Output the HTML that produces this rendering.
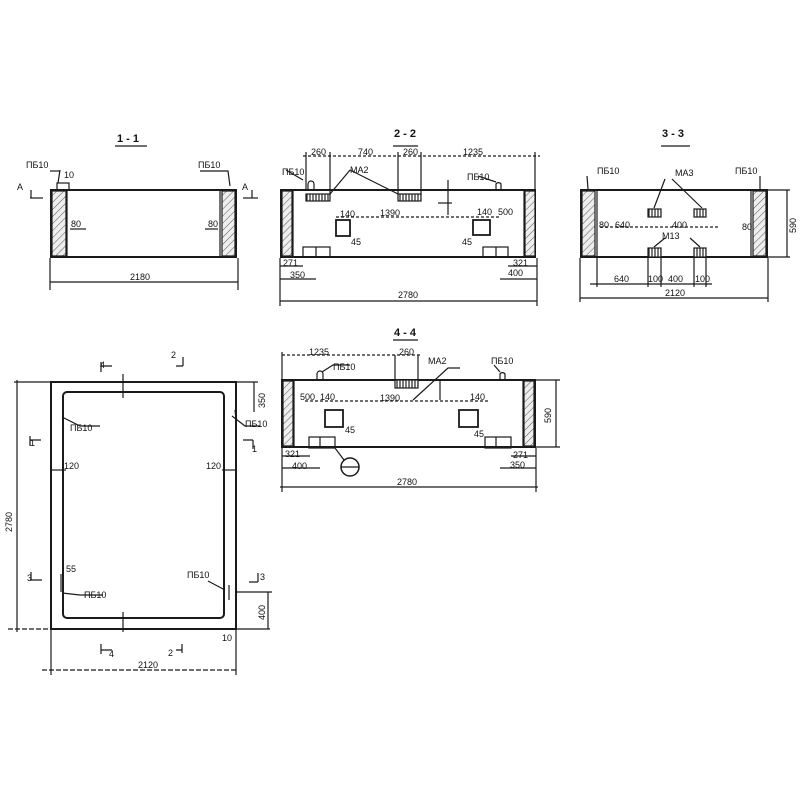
<!DOCTYPE html>
<html><head><meta charset="utf-8"><style>
html,body{margin:0;padding:0;background:#fff}
svg{display:block}
text{font-family:"Liberation Sans",sans-serif;font-size:9px;fill:#111}
.t{font-size:11px;font-weight:bold}
</style></head><body>
<svg width="800" height="800" viewBox="0 0 800 800" xmlns="http://www.w3.org/2000/svg">
<defs>
<pattern id="h" width="5" height="5" patternUnits="userSpaceOnUse" patternTransform="rotate(45)">
<rect width="5" height="5" fill="#eee"/><line x1="0" y1="0" x2="0" y2="5" stroke="#555" stroke-width="1"/></pattern>
<pattern id="v" width="3" height="4" patternUnits="userSpaceOnUse"><rect width="3" height="4" fill="#fff"/><line x1="1" y1="0" x2="1" y2="4" stroke="#222" stroke-width="1.2"/></pattern>
</defs>
<g stroke="#1a1a1a" fill="none" stroke-width="1.2">

<!-- 1-1 -->
<line x1="115" y1="146" x2="147" y2="146"/>
<rect x="51" y="190" width="185" height="67" stroke-width="2"/>
<rect x="52" y="191" width="14" height="65" fill="url(#h)"/>
<line x1="67" y1="190" x2="67" y2="257"/>
<rect x="222" y="191" width="13" height="65" fill="url(#h)"/>
<line x1="220" y1="190" x2="220" y2="257"/>
<rect x="57" y="183" width="12" height="7"/>
<line x1="60" y1="170" x2="58" y2="183"/>
<path d="M50 171 H60"/><path d="M200 171 H228 L230 186"/>
<line x1="30" y1="198" x2="43" y2="198"/><line x1="31" y1="190" x2="31" y2="198"/>
<line x1="243" y1="198" x2="258" y2="198"/><line x1="252" y1="190" x2="252" y2="198"/>
<line x1="70" y1="229" x2="86" y2="229"/><line x1="205" y1="229" x2="218" y2="229"/>
<line x1="50" y1="258" x2="50" y2="290"/><line x1="238" y1="258" x2="238" y2="290"/>
<line x1="50" y1="282" x2="238" y2="282"/>

<!-- 2-2 -->
<line x1="393" y1="146" x2="418" y2="146"/>
<line x1="303" y1="156" x2="540" y2="156" stroke-dasharray="3,2"/>
<line x1="306" y1="152" x2="306" y2="190"/><line x1="330" y1="152" x2="330" y2="195"/>
<line x1="398" y1="152" x2="398" y2="195"/><line x1="421" y1="152" x2="421" y2="195"/>
<line x1="535" y1="152" x2="535" y2="190"/>
<rect x="281" y="190" width="254" height="67" stroke-width="2"/>
<rect x="282" y="191" width="10" height="65" fill="url(#h)"/>
<line x1="293" y1="190" x2="293" y2="257"/>
<rect x="525" y="191" width="10" height="65" fill="url(#h)"/>
<line x1="524" y1="190" x2="524" y2="257"/>
<rect x="306" y="194" width="24" height="7" fill="url(#v)"/>
<rect x="398" y="194" width="23" height="7" fill="url(#v)"/>
<path d="M308 189 v-5 a3 3 0 0 1 6 0 v5"/><path d="M496 189 v-5 a3 3 0 0 1 5 0 v5"/>
<path d="M286 170 L303 180"/><path d="M478 176 L496 182"/>
<path d="M350 170 L330 194 M350 170 L398 194"/>
<rect x="336" y="220" width="14" height="16" stroke-width="1.8"/>
<rect x="473" y="220" width="17" height="15" stroke-width="1.8"/>
<line x1="336" y1="217" x2="500" y2="217" stroke-dasharray="3,2"/>
<rect x="303" y="247" width="27" height="10"/><line x1="316" y1="247" x2="316" y2="257"/>
<rect x="483" y="247" width="25" height="10"/><line x1="496" y1="247" x2="496" y2="257"/>
<line x1="280" y1="258" x2="280" y2="306"/><line x1="537" y1="258" x2="537" y2="306"/>
<line x1="280" y1="301" x2="537" y2="301"/>
<line x1="280" y1="279" x2="316" y2="279"/><line x1="500" y1="279" x2="537" y2="279"/>
<line x1="280" y1="266" x2="303" y2="266"/><line x1="508" y1="266" x2="537" y2="266"/>
<line x1="438" y1="203" x2="452" y2="203"/><line x1="448" y1="180" x2="448" y2="215"/>

<!-- 3-3 -->
<line x1="661" y1="146" x2="690" y2="146"/>
<rect x="581" y="190" width="186" height="67" stroke-width="2"/>
<rect x="582" y="191" width="13" height="65" fill="url(#h)"/>
<line x1="597" y1="190" x2="597" y2="257"/>
<rect x="753" y="191" width="13" height="65" fill="url(#h)"/>
<line x1="751" y1="190" x2="751" y2="257"/>
<rect x="648" y="209" width="13" height="8" fill="url(#v)"/>
<rect x="694" y="209" width="12" height="8" fill="url(#v)"/>
<rect x="648" y="248" width="13" height="9" fill="url(#v)"/>
<rect x="694" y="248" width="12" height="9" fill="url(#v)"/>
<path d="M665 179 L654 208 M672 179 L702 208"/>
<path d="M665 238 L654 247 M690 238 L700 247"/>
<line x1="587" y1="176" x2="588" y2="189"/><line x1="760" y1="176" x2="760" y2="189"/>
<line x1="600" y1="227" x2="720" y2="227" stroke-dasharray="3,2"/>
<line x1="767" y1="190" x2="790" y2="190"/><line x1="767" y1="257" x2="790" y2="257"/>
<line x1="787" y1="190" x2="787" y2="257"/>
<line x1="580" y1="258" x2="580" y2="302"/><line x1="768" y1="258" x2="768" y2="302"/>
<line x1="580" y1="298" x2="768" y2="298"/>
<line x1="590" y1="284" x2="712" y2="284"/>
<line x1="597" y1="257" x2="597" y2="287"/><line x1="648" y1="257" x2="648" y2="287"/>
<line x1="661" y1="257" x2="661" y2="287"/><line x1="694" y1="257" x2="694" y2="287"/><line x1="706" y1="257" x2="706" y2="287"/>

<!-- 4-4 -->
<line x1="393" y1="340" x2="418" y2="340"/>
<line x1="282" y1="355" x2="420" y2="355" stroke-dasharray="3,2"/>
<line x1="282" y1="352" x2="282" y2="379"/><line x1="395" y1="355" x2="395" y2="380"/><line x1="418" y1="355" x2="418" y2="380"/>
<rect x="282" y="380" width="253" height="67" stroke-width="2"/>
<rect x="283" y="381" width="10" height="65" fill="url(#h)"/>
<line x1="294" y1="380" x2="294" y2="447"/>
<rect x="524" y="381" width="10" height="65" fill="url(#h)"/>
<line x1="523" y1="380" x2="523" y2="447"/>
<rect x="395" y="380" width="23" height="8" fill="url(#v)"/>
<path d="M317 379 v-5 a3 3 0 0 1 6 0 v5"/><path d="M500 379 v-5 a3 3 0 0 1 5 0 v5"/>
<path d="M322 372 L333 365 H350"/><path d="M500 372 L494 365"/>
<path d="M413 400 L448 368 H460"/>
<rect x="325" y="410" width="18" height="17" stroke-width="1.8"/>
<rect x="459" y="410" width="19" height="17" stroke-width="1.8"/>
<line x1="305" y1="401" x2="490" y2="401" stroke-dasharray="3,2"/>
<rect x="309" y="437" width="26" height="11"/><line x1="320" y1="437" x2="320" y2="448"/>
<rect x="485" y="437" width="26" height="11"/><line x1="496" y1="437" x2="496" y2="448"/>
<circle cx="350" cy="467" r="9" stroke-width="1.5"/><line x1="341" y1="467" x2="359" y2="467"/>
<line x1="335" y1="448" x2="344" y2="460"/>
<line x1="282" y1="448" x2="282" y2="492"/><line x1="536" y1="448" x2="536" y2="492"/>
<line x1="280" y1="487" x2="538" y2="487"/>
<line x1="282" y1="468" x2="320" y2="468"/><line x1="500" y1="468" x2="536" y2="468"/>
<line x1="282" y1="456" x2="310" y2="456"/><line x1="511" y1="456" x2="536" y2="456"/>
<line x1="536" y1="380" x2="560" y2="380"/><line x1="536" y1="447" x2="560" y2="447"/>
<line x1="556" y1="380" x2="556" y2="447"/>
<line x1="440" y1="380" x2="440" y2="400"/>

<!-- plan -->
<rect x="51" y="382" width="185" height="247" stroke-width="2"/>
<rect x="63" y="392" width="161" height="226" rx="4" stroke-width="2"/>
<line x1="14" y1="382" x2="51" y2="382"/><line x1="8" y1="629" x2="51" y2="629" stroke-dasharray="5,2"/>
<line x1="17" y1="380" x2="17" y2="632"/>
<line x1="236" y1="382" x2="258" y2="382"/><line x1="236" y1="629" x2="270" y2="629"/>
<line x1="254" y1="382" x2="254" y2="412"/>
<line x1="236" y1="592" x2="272" y2="592"/><line x1="268" y1="592" x2="268" y2="629"/>
<line x1="51" y1="630" x2="51" y2="675"/><line x1="236" y1="630" x2="236" y2="675"/>
<line x1="42" y1="670" x2="238" y2="670" stroke-dasharray="5,2"/>
<line x1="123" y1="374" x2="123" y2="398"/><line x1="123" y1="612" x2="123" y2="632"/>
<path d="M101 372 V362 M101 366 H112"/><path d="M183 366 V357 M176 366 H183"/>
<path d="M101 644 V654 M101 650 H112"/><path d="M182 644 V653 M176 650 H182"/>
<path d="M30 440 H41 M30 436 V446"/><path d="M243 440 H253 M253 440 V449"/>
<path d="M30 580 H42 M31 572 V580"/><path d="M249 582 H258 M258 573 V582"/>
<line x1="51" y1="470" x2="66" y2="470"/><line x1="222" y1="470" x2="236" y2="470"/>
<path d="M62 417 L80 426 H100"/><path d="M232 416 L245 426 H260"/>
<path d="M62 593 L80 595 H103"/><path d="M208 581 L225 590"/>
<line x1="61" y1="574" x2="61" y2="592"/><line x1="229" y1="585" x2="229" y2="600"/>
<line x1="235" y1="410" x2="236" y2="420"/>
</g>
<g>
<text class="t" x="117" y="142">1 - 1</text>
<text class="t" x="394" y="137">2 - 2</text>
<text class="t" x="662" y="137">3 - 3</text>
<text class="t" x="394" y="336">4 - 4</text>
<text x="26" y="168">ПБ10</text><text x="198" y="168">ПБ10</text>
<text x="64" y="178">10</text>
<text x="17" y="190">А</text><text x="242" y="190">А</text>
<text x="71" y="227">80</text><text x="208" y="227">80</text>
<text x="130" y="280">2180</text>
<text x="311" y="155">260</text><text x="358" y="155">740</text><text x="403" y="155">260</text><text x="463" y="155">1235</text>
<text x="282" y="175">ПБ10</text><text x="467" y="180">ПБ10</text><text x="350" y="173">МА2</text>
<text x="340" y="217">140</text><text x="380" y="216">1390</text><text x="477" y="215">140</text><text x="498" y="215">500</text>
<text x="351" y="245">45</text><text x="462" y="245">45</text>
<text x="283" y="266">271</text><text x="290" y="278">350</text>
<text x="508" y="276">400</text><text x="513" y="266">321</text>
<text x="398" y="298">2780</text>
<text x="597" y="174">ПБ10</text><text x="735" y="174">ПБ10</text>
<text x="675" y="176">МА3</text><text x="662" y="239">М13</text>
<text x="599" y="228">80</text><text x="615" y="228">640</text><text x="672" y="228">400</text>
<text x="742" y="230">80</text>
<text x="614" y="282">640</text><text x="648" y="282">100</text><text x="668" y="282">400</text><text x="695" y="282">100</text>
<text x="665" y="296">2120</text>
<text x="309" y="355">1235</text><text x="399" y="355">260</text><text x="428" y="364">МА2</text>
<text x="333" y="370">ПБ10</text><text x="491" y="364">ПБ10</text>
<text x="300" y="400">500</text><text x="320" y="400">140</text><text x="380" y="401">1390</text><text x="470" y="400">140</text>
<text x="345" y="433">45</text><text x="474" y="437">45</text>
<text x="285" y="457">321</text><text x="292" y="469">400</text><text x="513" y="458">271</text><text x="510" y="468">350</text>
<text x="397" y="485">2780</text>
<text x="70" y="431">ПБ10</text><text x="245" y="427">ПБ10</text>
<text x="187" y="578">ПБ10</text><text x="84" y="598">ПБ10</text>
<text x="64" y="469">120</text><text x="206" y="469">120</text>
<text x="66" y="572">55</text>
<text x="100" y="368">4</text><text x="171" y="358">2</text>
<text x="109" y="657">4</text><text x="168" y="656">2</text>
<text x="30" y="446">1</text><text x="252" y="452">1</text>
<text x="27" y="581">3</text><text x="260" y="580">3</text>
<text x="138" y="668">2120</text>
<text x="222" y="641">10</text>
<text transform="translate(12 532) rotate(-90)">2780</text>
<text transform="translate(265 408) rotate(-90)">350</text>
<text transform="translate(265 620) rotate(-90)">400</text>
<text transform="translate(796 233) rotate(-90)">590</text>
<text transform="translate(551 423) rotate(-90)">590</text>
</g>
</svg>
</body></html>
